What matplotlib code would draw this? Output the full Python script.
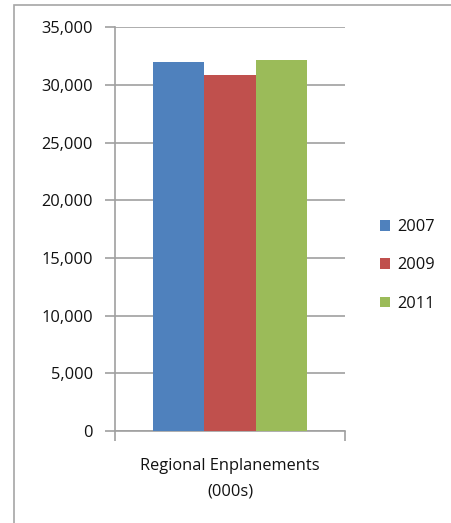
import matplotlib.pyplot as plt
from matplotlib.patches import Rectangle
from matplotlib.ticker import FuncFormatter
import numpy as np

#-------------------------------------------------------------------------------
years    = ['2007', '2009', '2011']
values   = [31970, 30820, 32120]
category = ['Regional Enplanements', '(000s)']
colors   = ['#4F81BD', '#C0504D', '#9BBB59']
yticks   = [0, 5000, 10000, 15000, 20000, 25000, 30000, 35000]
#-------------------------------------------------------------------------------
plt.rcParams['font.family'] = ['Open Sans', 'DejaVu Sans']
txt_color = '#111111'
fs = 11.8

fig = plt.figure(figsize=(4.51, 5.23), dpi=100)
ax = fig.add_axes([0.255, 0.176, 0.51, 0.772])

# outer chart frame (right / bottom edges cropped in the original)
fig.patches.append(Rectangle((13.5/451, -0.1), 1.1, 1 + 0.1 - 5.5/523,
                             transform=fig.transFigure, fill=False,
                             edgecolor='#A6A6A6', linewidth=1.2))

bar_w = 0.667 / len(years)
x0 = -bar_w * (len(years) - 1) / 2
for i, (yr, v) in enumerate(zip(years, values)):
    ax.bar(x0 + i * bar_w, v, width=bar_w, color=colors[i], label=yr,
           zorder=3, edgecolor='none')

ax.set_xlim(-0.5, 0.5)
ax.set_ylim(0, 35000)
ax.set_yticks(yticks)
ax.yaxis.set_major_formatter(FuncFormatter(lambda v, p: f'{int(v):,}'))
ax.grid(axis='y', color='#A0A0A0', linewidth=1.2, zorder=0)
ax.set_axisbelow(True)

for s in ['top', 'right']:
    ax.spines[s].set_visible(False)
ax.spines['left'].set_color('#A0A0A0')
ax.spines['bottom'].set_color('#A0A0A0')
ax.spines['left'].set_linewidth(1.2)
ax.spines['bottom'].set_linewidth(1.2)

ax.tick_params(axis='y', direction='out', length=7, color='#A0A0A0',
               width=1.2, labelsize=fs, pad=9, labelcolor=txt_color)
ax.set_xticks([-0.5, 0.5])
ax.set_xticklabels(['', ''])
ax.tick_params(axis='x', direction='out', length=7, color='#A0A0A0', width=1.2)

fig.text(230/451, 1 - 466/523, category[0], ha='center',
         va='center', fontsize=fs, color=txt_color)
fig.text(230/451, 1 - 492/523, category[1], ha='center', va='center',
         fontsize=fs, color=txt_color)

leg = ax.legend(loc='center left', bbox_to_anchor=(1.09, 0.41), frameon=False,
                fontsize=fs, handlelength=0.6, handleheight=0.6,
                handletextpad=0.45, labelspacing=1.35)
for t in leg.get_texts():
    t.set_color(txt_color)

plt.savefig('out.png', dpi=100)
